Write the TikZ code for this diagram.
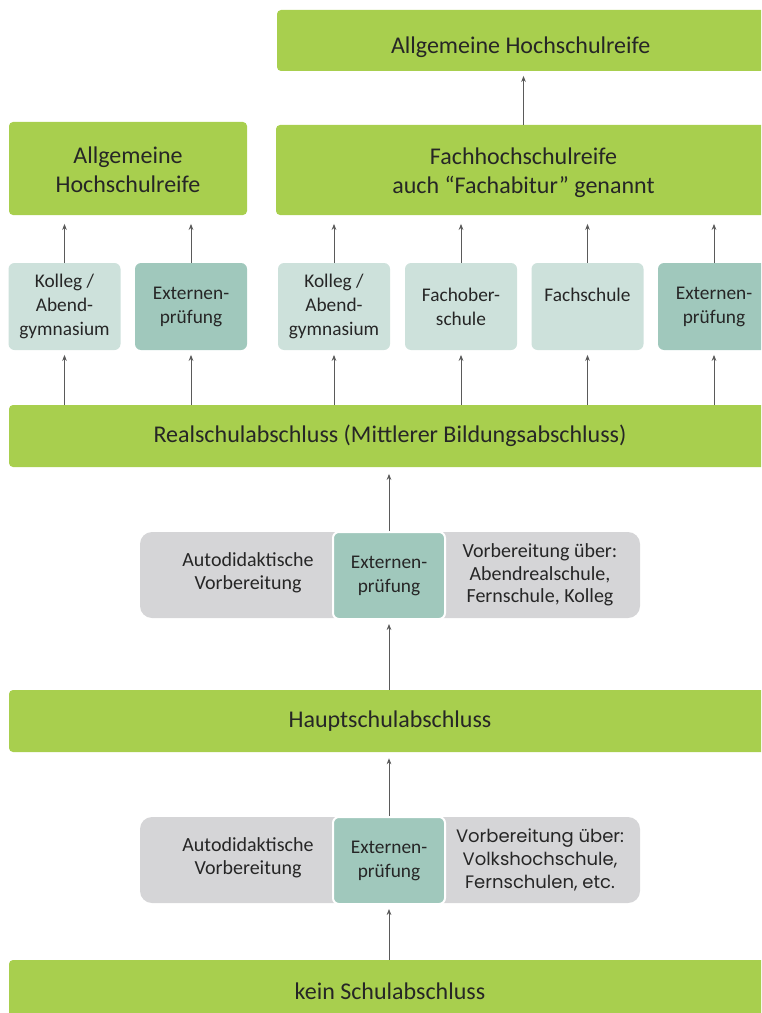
\documentclass[tikz,border=0pt]{standalone}
\usepackage{fontspec}
\setmainfont{Carlito}
\newfontfamily\geo{Poppins}
\usetikzlibrary{arrows.meta}
\definecolor{grn}{HTML}{A8CF4E}
\definecolor{lteal}{HTML}{CDE1DB}
\definecolor{dteal}{HTML}{A0C8BC}
\definecolor{gry}{HTML}{D5D5D7}
\definecolor{txt}{HTML}{262626}
\definecolor{arrc}{HTML}{5A5A5A}
\begin{document}
\begin{tikzpicture}[x=0.75pt,y=-0.75pt,
  big/.style={fill=grn, rounded corners=3pt, inner sep=0pt, text=txt, font=\fontsize{18}{22}\selectfont, align=center},
  small/.style={rounded corners=4.5pt, inner sep=0pt, text=txt, font=\fontsize{14.5}{18}\selectfont, align=center, minimum width=84pt, minimum height=65.25pt},
  lbox/.style={small, fill=lteal},
  dbox/.style={small, fill=dteal},
  band/.style={fill=gry, rounded corners=9pt, minimum width=375pt, minimum height=64.5pt, inner sep=0pt},
  bandtxt/.style={text=txt, font=\fontsize{15}{17}\selectfont, align=center, inner sep=0pt},
  mid/.style={small, fill=dteal, draw=white, line width=1.5pt},
  arr/.style={draw=arrc, line width=0.6pt, -{Stealth[length=4.5pt,width=3.5pt]}}
]
\useasboundingbox (0,0) rectangle (761,1013);
\clip (0,0) rectangle (761,1013);

% top row
\node[big, minimum width=370.5pt, minimum height=45.75pt] (top) at (524,40.5) {\raisebox{-9.5pt}[0pt][0pt]{Allgemeine Hochschulreife}\hspace*{5pt}};
\node[big, minimum width=178.5pt, minimum height=69.75pt] (ahr) at (128,168.5) {\rule{0pt}{14pt}Allgemeine\\Hochschulreife};
\node[big, minimum width=371.25pt, minimum height=67.5pt] (fhr) at (523.5,170) {\rule{0pt}{17pt}Fachhochschulreife\\auch \textquotedblleft Fachabitur\textquotedblright{} genannt};

% small boxes
\node[lbox] (k1) at (64.5,306.5) {Kolleg /\\Abend-\\gymnasium};
\node[dbox] (e1) at (191,306.5) {Externen-\\prüfung};
\node[lbox] (k2) at (334,306.5) {Kolleg /\\Abend-\\gymnasium};
\node[lbox] (fos) at (461,306.5) {Fachober-\\schule};
\node[lbox] (fs) at (587.5,306.5) {Fachschule\\\mbox{}};
\node[dbox] (e2) at (714,306.5) {Externen-\\prüfung};

% Realschulabschluss
\node[big, minimum width=571.5pt, minimum height=46.5pt] (rs) at (390,436) {Realschulabschluss (Mittlerer Bildungsabschluss)};

% band 1
\node[band] (b1) at (390,575) {};
\node[bandtxt] (b1l) at (248,573) {Autodidaktische\\Vorbereitung};
\node[bandtxt] (b1r) at (540,575) {Vorbereitung über:\\Abendrealschule,\\Fernschule, Kolleg};
\node[mid] (e3) at (389,575.5) {Externen-\\prüfung};

% Hauptschulabschluss
\node[big, minimum width=571.5pt, minimum height=46.5pt] (hs) at (390,721) {Hauptschulabschluss};

% band 2
\node[band] (b2) at (390,860) {};
\node[bandtxt] (b2l) at (248,858) {Autodidaktische\\Vorbereitung};
\node[bandtxt, font=\geo\fontsize{13.5}{17}\selectfont] (b2r) at (540,860) {Vorbereitung über:\\Volkshochschule,\\Fernschulen, etc.};
\node[mid] (e4) at (389,860.5) {Externen-\\prüfung};

% kein Schulabschluss
\node[big, minimum width=571.5pt, minimum height=46.5pt] (kein) at (390,991) {kein Schulabschluss};

% arrows
\draw[arr, shorten >=3.5pt] (fhr.north) -- (fhr.north |- top.south);
\foreach \n in {k1,e1}{
  \draw[arr, shorten >=6.5pt] (\n.north) -- (\n.north |- ahr.south);
  \draw[arr, shorten >=3.5pt] (rs.north -| \n.south) -- (\n.south);
}
\foreach \n in {k2,fos,fs,e2}{
  \draw[arr, shorten >=6.5pt] (\n.north) -- (\n.north |- fhr.south);
  \draw[arr, shorten >=3.5pt] (rs.north -| \n.south) -- (\n.south);
}
\draw[arr, shorten >=5pt] (e3.north) -- (e3.north |- rs.south);
\draw[arr, shorten >=3pt] (hs.north -| e3.south) -- (e3.south);
\draw[arr, shorten >=4.5pt] (e4.north) -- (e4.north |- hs.south);
\draw[arr, shorten >=3pt] (kein.north -| e4.south) -- (e4.south);
\end{tikzpicture}
\end{document}
